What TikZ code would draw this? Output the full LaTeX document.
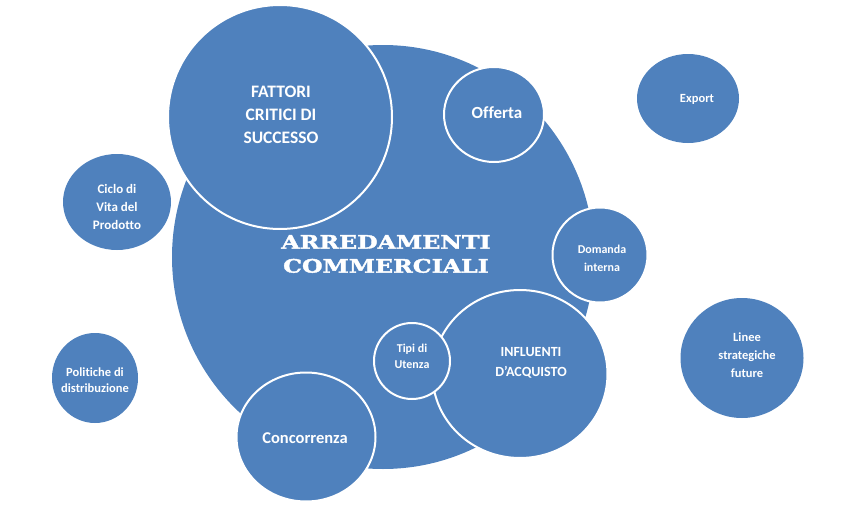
\documentclass[tikz,border=0pt]{standalone}
\usepackage{fontspec}
\setmainfont[Ligatures=NoCommon]{Carlito}
\newfontfamily\titlefont[FakeStretch=1.28,FakeBold=2]{DejaVu Serif Bold}
\definecolor{bubble}{RGB}{79,129,189}
\begin{document}
\begin{tikzpicture}[x=1pt,y=-1pt,
  bub/.style={fill=bubble,draw=white,line width=2pt},
  lbl/.style={text=white,font=\bfseries,align=center},
]
\useasboundingbox (0,0) rectangle (844,506);
% main circle
\fill[bubble] (383,257) ellipse [x radius=211,y radius=212];
\node[lbl,font=\titlefont\fontsize{18.5}{24}\selectfont] (title) at (386,254) {ARREDAMENTI\\COMMERCIALI};
% satellite circles
\draw[bub] (280,117) ellipse [x radius=112,y radius=112];
\node[lbl,font=\bfseries\fontsize{17.5}{23}\selectfont] (fcs) at (281,115) {FATTORI\\CRITICI DI\\SUCCESSO};
\draw[bub] (494,114.5) ellipse [x radius=50,y radius=47.5];
\node[lbl,font=\bfseries\fontsize{17}{20}\selectfont] (off) at (497,113) {Offerta};
\draw[bub] (600,255) ellipse [x radius=47.5,y radius=47.5];
\node[lbl,font=\bfseries\fontsize{12}{18}\selectfont] (dom) at (602,258) {Domanda\\interna};
\draw[bub] (520,374) ellipse [x radius=87.5,y radius=84];
\node[lbl,font=\bfseries\fontsize{14}{20}\selectfont] (inf) at (531,363) {INFLUENTI\\D’ACQUISTO};
\draw[bub] (412,361) ellipse [x radius=38,y radius=38];
\node[lbl,font=\bfseries\fontsize{12}{16}\selectfont] (tipi) at (412,356) {Tipi di\\Utenza};
\draw[bub] (306,437) ellipse [x radius=69.5,y radius=64.5];
\node[lbl,font=\bfseries\fontsize{16.5}{20}\selectfont] (conc) at (305,438) {Concorrenza};
% free circles
\fill[bubble] (688,98.5) ellipse [x radius=51,y radius=44.5];
\node[lbl,font=\bfseries\fontsize{12.5}{18}\selectfont] (exp) at (697,99) {Export};
\fill[bubble] (742,358) ellipse [x radius=61.5,y radius=60];
\node[lbl,font=\bfseries\fontsize{12.5}{18}\selectfont] (lin) at (747,355) {Linee\\strategiche\\future};
\fill[bubble] (117,202) ellipse [x radius=54,y radius=48];
\node[lbl,font=\bfseries\fontsize{13}{18}\selectfont] (ciclo) at (117,207) {Ciclo di\\Vita del\\Prodotto};
\fill[bubble] (95,378) ellipse [x radius=43,y radius=45];
\node[lbl,font=\bfseries\fontsize{12.5}{16.5}\selectfont] (pol) at (95,380) {Politiche di\\distribuzione};
\end{tikzpicture}
\end{document}
